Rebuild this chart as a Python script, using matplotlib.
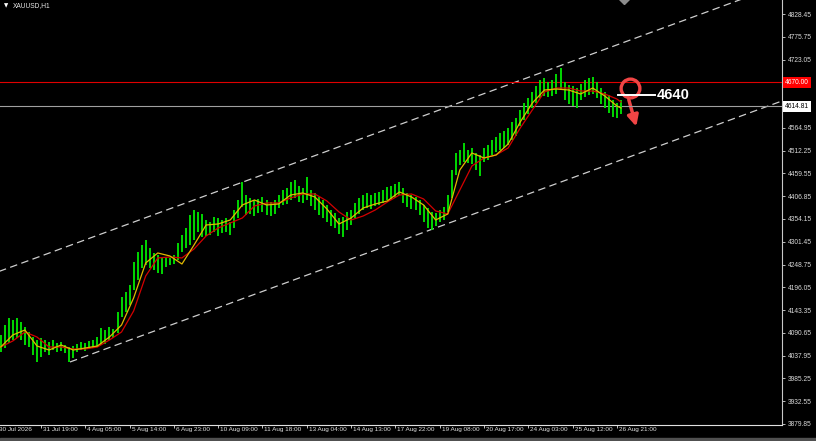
import numpy as np
import matplotlib
matplotlib.use("Agg")
import matplotlib.pyplot as plt
import matplotlib.transforms as mtransforms
from matplotlib.patches import Rectangle, FancyArrowPatch

plt.rcParams['font.family'] = ['Liberation Sans', 'DejaVu Sans']

symbol = "XAUUSD,H1"

# 3-hour bars (bar index in hours)
bar_hours = np.arange(3, 466, 3)
highs = [4086, 4109, 4125, 4120, 4125, 4116, 4104, 4093, 4081, 4074,
         4079, 4074, 4070, 4074, 4067, 4070, 4063, 4058, 4060, 4065,
         4070, 4067, 4072, 4074, 4081, 4102, 4097, 4104, 4100, 4139,
         4174, 4185, 4201, 4255, 4278, 4294, 4306, 4287, 4276, 4271,
         4264, 4266, 4264, 4271, 4299, 4317, 4333, 4363, 4375, 4370,
         4366, 4352, 4347, 4359, 4357, 4352, 4357, 4347, 4375, 4398,
         4440, 4410, 4403, 4398, 4400, 4405, 4398, 4394, 4398, 4410,
         4421, 4426, 4440, 4444, 4431, 4426, 4451, 4421, 4414, 4405,
         4398, 4387, 4375, 4368, 4357, 4359, 4370, 4375, 4391, 4403,
         4410, 4414, 4410, 4414, 4417, 4421, 4428, 4431, 4435, 4440,
         4426, 4414, 4410, 4405, 4398, 4387, 4380, 4370, 4368, 4375,
         4382, 4410, 4468, 4507, 4514, 4530, 4514, 4518, 4507, 4502,
         4518, 4525, 4537, 4544, 4553, 4558, 4565, 4579, 4588, 4606,
         4623, 4634, 4648, 4662, 4676, 4680, 4671, 4676, 4690, 4704,
         4671, 4664, 4662, 4657, 4667, 4676, 4680, 4683, 4671, 4657,
         4648, 4641, 4630, 4623, 4630]
lows = [4046, 4056, 4067, 4074, 4079, 4074, 4063, 4058, 4039, 4023,
        4035, 4046, 4039, 4051, 4046, 4049, 4044, 4023, 4032, 4046,
        4051, 4049, 4053, 4056, 4058, 4063, 4065, 4074, 4079, 4090,
        4127, 4139, 4155, 4190, 4213, 4241, 4248, 4241, 4236, 4229,
        4227, 4243, 4248, 4250, 4259, 4278, 4287, 4294, 4306, 4324,
        4313, 4315, 4317, 4324, 4315, 4322, 4324, 4317, 4333, 4357,
        4382, 4363, 4366, 4361, 4368, 4370, 4363, 4361, 4366, 4380,
        4387, 4389, 4398, 4403, 4394, 4391, 4398, 4384, 4375, 4363,
        4357, 4347, 4338, 4333, 4320, 4313, 4329, 4340, 4357, 4366,
        4375, 4380, 4377, 4384, 4387, 4391, 4398, 4400, 4403, 4410,
        4391, 4382, 4377, 4375, 4363, 4347, 4333, 4329, 4338, 4347,
        4352, 4370, 4403, 4456, 4479, 4486, 4484, 4481, 4468, 4454,
        4486, 4491, 4502, 4509, 4514, 4518, 4525, 4537, 4546, 4569,
        4583, 4597, 4611, 4623, 4634, 4639, 4636, 4639, 4643, 4653,
        4630, 4620, 4616, 4611, 4630, 4636, 4641, 4643, 4634, 4620,
        4611, 4599, 4590, 4588, 4597]

# moving averages as they appear on the chart (yellow fast, red slow)
ma_hours = list(range(3, 466, 9)) + [465]
ma_fast = [4058.0, 4085.8, 4097.3, 4060.3, 4051.0, 4062.6, 4051.0, 4055.7, 4060.3, 4081.1,
           4108.9, 4171.4, 4252.4, 4275.5, 4268.6, 4250.0, 4294.0, 4340.3, 4342.6, 4351.9,
           4386.6, 4398.1, 4386.6, 4388.9, 4409.7, 4414.4, 4405.1, 4377.3, 4342.6, 4356.5,
           4379.6, 4388.9, 4395.8, 4416.7, 4405.1, 4386.6, 4351.9, 4365.8, 4467.6, 4506.9,
           4495.3, 4502.3, 4527.7, 4578.6, 4622.5, 4652.6, 4654.9, 4652.6, 4643.4, 4657.2,
           4638.7, 4615.6, 4611.0]
ma_slow = [4058.0, 4071.9, 4092.7, 4081.1, 4058.0, 4058.0, 4053.4, 4053.4, 4058.0, 4074.2,
           4092.7, 4141.3, 4222.3, 4264.0, 4266.3, 4264.0, 4284.7, 4314.9, 4333.4, 4344.9,
           4356.5, 4384.3, 4391.2, 4391.2, 4402.8, 4412.0, 4412.0, 4395.8, 4370.4, 4351.9,
           4361.1, 4375.0, 4393.5, 4409.7, 4412.0, 4400.5, 4372.7, 4365.8, 4421.3, 4476.8,
           4495.3, 4502.3, 4518.5, 4564.7, 4606.4, 4648.0, 4657.2, 4657.2, 4650.3, 4650.3,
           4643.4, 4631.8, 4624.9]

tick_hours = [0, 33, 66, 99, 132, 165, 198, 231, 264, 297, 330, 363, 396, 429, 462]
tick_labels = ["30 Jul 2026", "31 Jul 19:00", "4 Aug 05:00", "5 Aug 14:00", "6 Aug 23:00",
               "10 Aug 09:00", "11 Aug 18:00", "13 Aug 04:00", "14 Aug 13:00", "17 Aug 22:00",
               "19 Aug 08:00", "20 Aug 17:00", "24 Aug 03:00", "25 Aug 12:00", "26 Aug 21:00"]
price_ticks = [3879.85, 3932.55, 3985.25, 4037.95, 4090.65, 4143.35, 4196.05, 4248.75,
               4301.45, 4354.15, 4406.85, 4459.55, 4512.25, 4564.95, 4723.05, 4775.75, 4828.45]

resistance = 4670.00
bid = 4614.81
target = 4640
channel_hours = [54.6, 322.8]
channel_prices = [4023.3, 4328.7]
channel_top = (183.5, 4439.8)
circle_at = (471.5, 4657.2)
arrow_from = (470.3, 4636.4)
arrow_to = (477.0, 4562.0)

fig = plt.figure(figsize=(8.16, 4.41), dpi=100, facecolor='black')
ax = fig.add_axes([0, 16 / 441, 782 / 816, 425 / 441], facecolor='black')
ax.set_xlim(2.46, 585.0)
ax.set_ylim(3877.5, 4860.85)

# channel
slope = (channel_prices[1] - channel_prices[0]) / (channel_hours[1] - channel_hours[0])
hx = np.array([channel_hours[0], 585.0])
ax.plot(hx, channel_prices[0] + slope * (hx - channel_hours[0]), color='#cfcfcf',
        lw=0.9, ls=(0, (6, 3.5)))
hx = np.array([0.0, 585.0])
ax.plot(hx, channel_top[1] + slope * (hx - channel_top[0]), color='#cfcfcf',
        lw=0.9, ls=(0, (6, 3.5)))

# levels
ax.axhline(resistance, color='#e00000', lw=0.8)
ax.axhline(bid, color='#a0a0a0', lw=0.8)

ax.vlines(bar_hours, lows, highs, colors='#00e000', lw=1.35)
ax.plot(ma_hours, ma_slow, color='#d40000', lw=0.9)
ax.plot(ma_hours, ma_fast, color='#e0b800', lw=0.9)

# annotation
ax.plot([circle_at[0]], [circle_at[1]], marker='o', ms=13.5, mfc='none', mec='#f04545', mew=2.4)
ax.plot([463.0, 490.5], [target, target], color='white', lw=1.4)
ax.text(491.5, target, str(target), color='white', fontsize=10.5, fontweight='bold',
        va='center', ha='left')
ax.add_patch(FancyArrowPatch(arrow_from, arrow_to, arrowstyle='-|>', mutation_scale=16,
                             color='#f04545', lw=2.5))

# small grey marker cut by the top edge
ax.plot([467.0], [4863.0], marker='D', ms=5, color='#8c8c8c', clip_on=True)

# axes styling
for side in ['top', 'left']:
    ax.spines[side].set_visible(False)
ax.spines['right'].set_color('#c8c8c8')
ax.spines['bottom'].set_color('#e0e0e0')
ax.spines['right'].set_linewidth(0.8)
ax.spines['bottom'].set_linewidth(0.8)

ax.yaxis.tick_right()
ax.set_yticks(price_ticks)
ax.set_yticklabels(['%.2f' % p for p in price_ticks])
ax.tick_params(axis='y', colors='#d8d8d8', labelsize=4.8, length=2.5, width=0.6, pad=1.5)

ax.set_xticks(tick_hours[1:])
ax.set_xticklabels([])
ax.tick_params(axis='x', colors='#e0e0e0', length=2.5, width=0.6)
offset = mtransforms.ScaledTranslation(2 / 100, -2 / 100, fig.dpi_scale_trans)
trans = mtransforms.blended_transform_factory(ax.transData, ax.transAxes) + offset
for h, lab in zip(tick_hours, tick_labels):
    ax.text(h, 0, lab, transform=trans, color='#e0e0e0', fontsize=4.6,
            ha='left', va='top', clip_on=False)

# level labels on the price scale
ytrans = mtransforms.blended_transform_factory(ax.transAxes, ax.transData)
ax.text(1.004, resistance, '%.2f' % resistance, transform=ytrans, color='white',
        fontsize=4.8, va='center', ha='left', clip_on=False,
        bbox=dict(facecolor='#ff0000', edgecolor='none', pad=1.6))
ax.text(1.004, bid, '%.2f' % bid, transform=ytrans, color='black',
        fontsize=4.8, va='center', ha='left', clip_on=False,
        bbox=dict(facecolor='white', edgecolor='none', pad=1.6))

# chart title
fig.text(4 / 816, 1 - 6 / 441, '\u25bc', color='white', fontsize=4, va='center',
         ha='left', family=['DejaVu Sans'])
fig.text(13 / 816, 1 - 6 / 441, symbol, color='#e8e8e8', fontsize=4.8, va='center', ha='left')

fig.patches.append(Rectangle((0, 0), 1, 3 / 441, transform=fig.transFigure,
                             color='#505050', zorder=0))

fig.savefig('out.png', dpi=100, facecolor='black')
